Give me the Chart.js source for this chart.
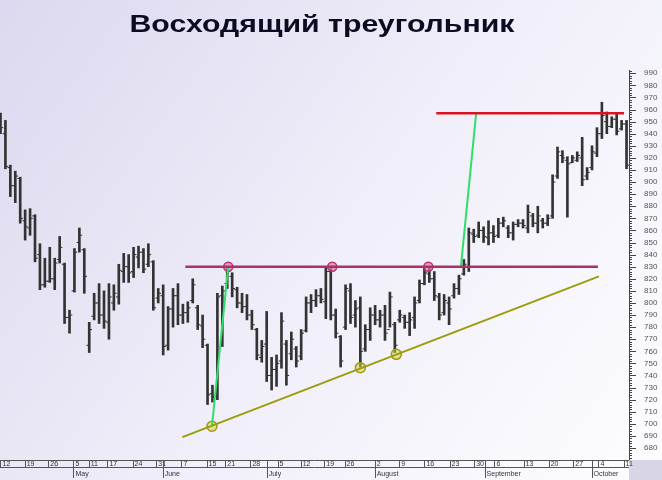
<!DOCTYPE html>
<html>
<head>
<meta charset="utf-8">
<script src="https://cdn.jsdelivr.net/npm/chart.js@4.4.0/dist/chart.umd.min.js"></script>
<style>
html, body { margin: 0; padding: 0; background: #fff; }
#wrap { width: 662px; height: 480px; }
</style>
</head>
<body>
<div id="wrap"><canvas id="myChart" width="662" height="480"></canvas></div>
<script>
const chartTitle = 'Восходящий треугольник'

// daily bars, one per trading day
const highs = [957,951,914,909,904,877,878,873,849,837,846,837,855,833,794,845,862,845,784,808,
  816,810,816,815,832,841,840,846,847,845,849,835,812,815,797,812,816,799,801,820,
  798,790,766,732,808,814,830,825,813,808,807,794,779,769,793,755,757,792,769,776,
  764,778,805,807,811,812,829,830,795,773,815,816,802,805,782,796,798,794,798,809,
  784,794,790,792,805,819,830,829,826,808,807,805,816,823,836,862,861,867,863,868,
  864,870,871,864,867,869,869,881,874,880,870,873,906,929,926,921,922,925,937,912,
  930,945,966,958,954,957,951,951]
const lows = [940,911,888,883,866,852,856,834,811,813,817,811,833,783,775,809,842,808,759,786,
  783,779,770,794,799,817,817,821,829,825,830,794,800,757,761,780,782,783,784,800,
  778,763,716,718,720,764,812,805,796,792,786,778,753,751,735,728,731,746,732,753,
  747,753,776,792,797,800,787,786,771,747,778,783,780,747,760,769,782,780,769,780,
  759,784,779,773,779,800,815,817,802,786,790,782,804,807,823,826,850,854,850,848,
  850,854,863,854,852,863,862,858,863,858,862,864,870,903,916,871,916,917,897,902,
  910,921,936,940,945,939,943,911]
const opens = [955,940,912,897,903,868,862,872,840,815,818,820,836,832,788,810,850,844,765,789,
  800,790,784,800,805,826,830,826,838,842,832,834,804,806,765,795,806,790,792,802,
  796,781,765,725,724,806,816,822,811,800,797,790,778,755,766,740,745,752,766,758,
  762,756,777,800,802,806,801,826,790,772,780,810,790,796,762,778,790,786,790,778,
  782,786,788,784,788,802,816,824,820,805,792,800,806,812,824,830,857,856,860,854,
  858,856,866,862,858,865,866,862,872,866,868,866,872,905,922,918,916,918,920,905,
  912,924,940,950,946,952,944,948]
const closes = [945,913,897,905,870,863,870,837,815,818,820,833,846,788,790,842,856,822,778,800,
  790,785,805,808,827,830,825,840,842,828,840,796,808,764,795,806,790,792,796,815,
  782,770,724,722,805,810,826,812,800,797,790,782,757,764,740,745,750,785,740,770,
  752,775,800,802,806,803,826,790,775,752,812,788,795,760,778,790,786,790,775,805,
  765,790,784,786,800,816,825,820,806,790,802,795,812,820,832,858,855,860,855,858,
  855,866,868,858,865,866,864,875,866,872,866,870,900,925,920,915,920,922,902,908,
  925,940,955,946,952,942,948,914]

// bottom axis: week ticks and month names (positions in bar units)
const weekPos = [0,4.9,9.7,14.8,17.9,21.7,26.8,31.6,36.7,41.8,45.6,50.7,56.2,60.9,65.7,69.8,
  75.9,80.9,86,91.1,96.1,100.2,106.1,111.2,116.2,121.3,126.4]
const weekLabels = ['12','19','26','5','11','17','24','31','7','15','21','28','5','12','19','26',
  '2','9','16','23','30','6','13','20','27','4','11']
const monthPos = [14.8,32.9,54,75.9,98.2,119.9]
const monthLabels = ['May','June','July','August','September','October']

// price axis
const yMin = 670.1
const yMax = 992.7
const yLabelFrom = 680
const yLabelTo = 990

// pattern drawing
const resistLine = [{x: 37.5, y: 830}, {x: 121.2, y: 830}]
const targetLine = [{x: 88.4, y: 957}, {x: 126.5, y: 957}]
const supportLine = [{x: 36.9, y: 689}, {x: 121.4, y: 822}]
const firstLeg = [{x: 42.9, y: 698}, {x: 46.2, y: 830}]
const secondLeg = [{x: 93.4, y: 830}, {x: 96.5, y: 957}]
const topTouches = [{x: 46.2, y: 830}, {x: 67.3, y: 830}, {x: 86.8, y: 830}]
const lowTouches = [{x: 42.9, y: 698}, {x: 73, y: 746.5}, {x: 80.3, y: 757.5}]

const barColor = '#333'

let backdrop = {
    id: 'backdrop',
    beforeDraw: (chart) => {
        let ctx = chart.ctx
        let g = ctx.createLinearGradient(0, 0, chart.width, chart.height)
        g.addColorStop(0, '#dcd8ef')
        g.addColorStop(0.55, '#f1f0fa')
        g.addColorStop(1, '#fdfdff')
        ctx.save()
        ctx.fillStyle = g
        ctx.fillRect(0, 0, chart.width, chart.height)
        ctx.restore()
    }
}

let frame = {
    id: 'frame',
    afterDraw: (chart) => {
        let ctx = chart.ctx
        let area = chart.chartArea
        let xs = chart.scales.x
        let ys = chart.scales.y
        ctx.save()

        // title, stretched wide like the original
        ctx.font = 'bold 24px "Liberation Sans", Arial, sans-serif'
        ctx.fillStyle = '#0b0b22'
        ctx.textBaseline = 'alphabetic'
        let w = ctx.measureText(chartTitle).width
        ctx.translate(322, 32)
        ctx.scale(385 / w, 1)
        ctx.textAlign = 'center'
        ctx.fillText(chartTitle, 0, 0)
        ctx.setTransform(chart.currentDevicePixelRatio, 0, 0, chart.currentDevicePixelRatio, 0, 0)

        // grey corner under the price axis
        ctx.fillStyle = '#d8d6e6'
        ctx.fillRect(area.right, area.bottom, chart.width - area.right, chart.height - area.bottom)

        // price axis on the right
        ctx.strokeStyle = '#444'
        ctx.lineWidth = 1
        ctx.beginPath()
        ctx.moveTo(area.right + 0.5, area.top)
        ctx.lineTo(area.right + 0.5, area.bottom)
        for (let v = yLabelFrom - 10; v <= yMax; v += 2) {
            if (v < yMin) continue
            let py = Math.round(ys.getPixelForValue(v)) + 0.5
            let len = (v % 10 === 0) ? 7 : 3
            ctx.moveTo(area.right, py)
            ctx.lineTo(area.right + len, py)
        }
        ctx.stroke()
        ctx.fillStyle = '#555'
        ctx.font = '8px "Liberation Sans", Arial, sans-serif'
        ctx.textAlign = 'left'
        ctx.textBaseline = 'middle'
        for (let v = yLabelFrom; v <= yLabelTo; v += 10) {
            ctx.fillText(String(v), area.right + 15, ys.getPixelForValue(v))
        }

        // date axis: week row and month row
        let top = area.bottom
        let mid = top + 7
        let bot = chart.height - 2
        ctx.strokeStyle = '#555'
        ctx.beginPath()
        ctx.moveTo(area.left, top + 0.5)
        ctx.lineTo(area.right, top + 0.5)
        ctx.moveTo(area.left, mid + 0.5)
        ctx.lineTo(area.right, mid + 0.5)
        weekPos.forEach(p => {
            let px = Math.round(xs.getPixelForValue(p)) + 0.5
            ctx.moveTo(px, top)
            ctx.lineTo(px, mid)
        })
        monthPos.forEach(p => {
            let px = Math.round(xs.getPixelForValue(p)) + 0.5
            ctx.moveTo(px, top)
            ctx.lineTo(px, bot)
        })
        ctx.stroke()
        ctx.fillStyle = '#333'
        ctx.font = '7px "Liberation Sans", Arial, sans-serif'
        ctx.textBaseline = 'alphabetic'
        weekPos.forEach((p, i) => {
            ctx.fillText(weekLabels[i], xs.getPixelForValue(p) + 2, mid - 1)
        })
        monthPos.forEach((p, i) => {
            ctx.fillText(monthLabels[i], xs.getPixelForValue(p) + 2, mid + 9)
        })
        ctx.restore()
    }
}

function lineSet(points, color, width) {
    return {
        type: 'line',
        data: points,
        borderColor: color,
        borderWidth: width,
        pointRadius: 0,
        fill: false,
        tension: 0,
        order: 1
    }
}

var ctx = document.getElementById('myChart').getContext('2d')
var chart = new Chart(ctx, {
    type: 'bar',
    data: {
        datasets: [
            {
                // high-low range of each day
                type: 'bar',
                data: highs.map((h, i) => ({x: i, y: [lows[i], h]})),
                backgroundColor: barColor,
                barThickness: 2,
                order: 10
            },
            {
                type: 'scatter',
                data: opens.map((o, i) => ({x: i - 0.3, y: o})),
                pointStyle: 'line',
                pointRadius: 1.3,
                pointBorderWidth: 1,
                pointBorderColor: barColor,
                order: 9
            },
            {
                type: 'scatter',
                data: closes.map((c, i) => ({x: i + 0.3, y: c})),
                pointStyle: 'line',
                pointRadius: 1.3,
                pointBorderWidth: 1,
                pointBorderColor: barColor,
                order: 9
            },
            {
                type: 'scatter',
                data: topTouches,
                pointRadius: 4.5,
                pointBackgroundColor: 'rgba(232,120,168,0.7)',
                pointBorderColor: '#b3336f',
                pointBorderWidth: 1.5,
                order: 5
            },
            {
                type: 'scatter',
                data: lowTouches,
                pointRadius: 5,
                pointBackgroundColor: 'rgba(210,210,80,0.55)',
                pointBorderColor: '#9c9c0c',
                pointBorderWidth: 1.5,
                order: 5
            },
            lineSet(resistLine, '#a8336b', 2.5),
            lineSet(targetLine, '#d9141e', 2.5),
            lineSet(supportLine, '#9c9c0c', 2),
            lineSet(firstLeg, '#2ee06a', 2),
            lineSet(secondLeg, '#2ee06a', 2)
        ]
    },
    options: {
        responsive: false,
        animation: false,
        events: [],
        layout: {autoPadding: false, padding: {left: 0, right: 33, top: 70, bottom: 20}},
        plugins: {legend: {display: false}, tooltip: {enabled: false}},
        scales: {
            x: {type: 'linear', min: -0.1, max: 127.5, offset: false, grid: {offset: false}, display: false},
            y: {type: 'linear', min: yMin, max: yMax, display: false}
        }
    },
    plugins: [backdrop, frame]
})
</script>
</body>
</html>
